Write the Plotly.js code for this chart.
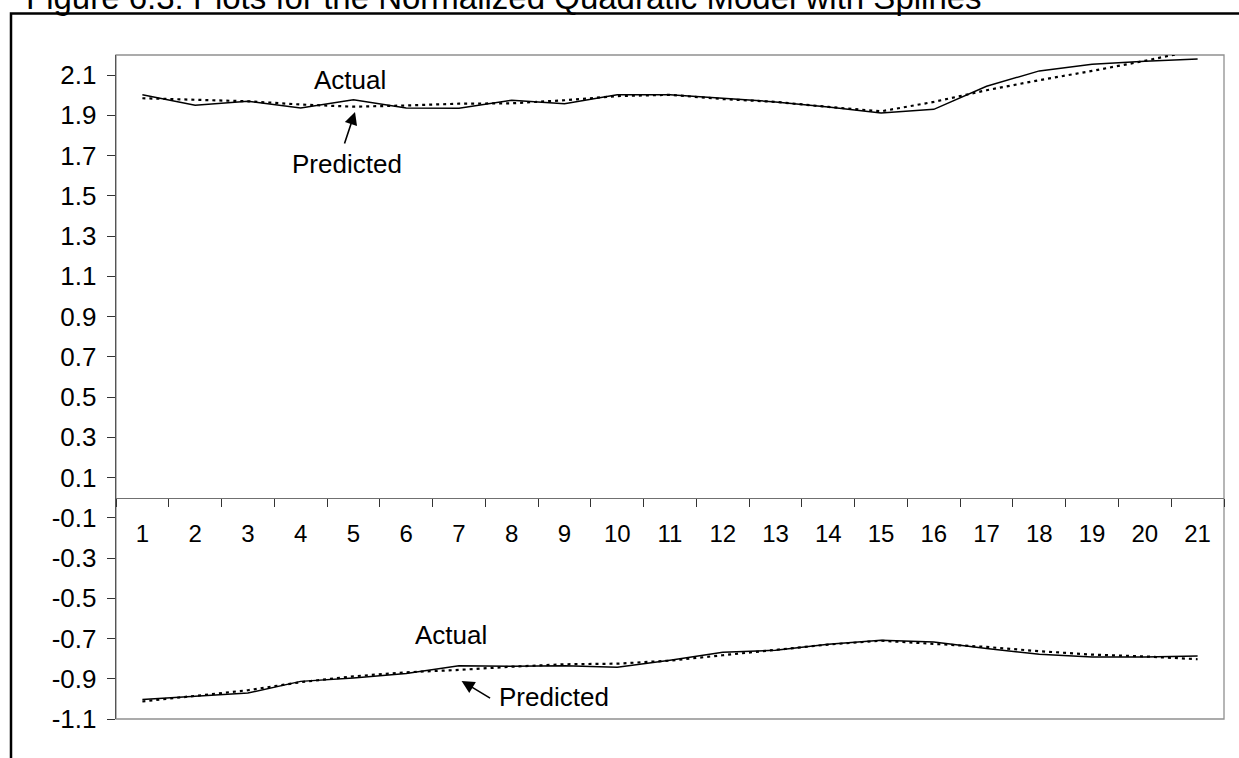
<!DOCTYPE html>
<html>
<head>
<meta charset="utf-8">
<script src="https://cdn.plot.ly/plotly-3.0.1.min.js"></script>
<style>
  html, body { margin: 0; padding: 0; background: #ffffff; }
  #chart { width: 1239px; height: 758px; }
</style>
</head>
<body>
<div id="chart"></div>
<script>
// ---- data ----
const categories = ['1','2','3','4','5','6','7','8','9','10','11','12','13','14','15','16','17','18','19','20','21'];

const upperActual    = [2.003, 1.950, 1.970, 1.937, 1.978, 1.937, 1.935, 1.975, 1.958, 2.003, 2.003, 1.986, 1.967, 1.942, 1.912, 1.930, 2.045, 2.121, 2.154, 2.169, 2.180];
const upperPredicted = [1.985, 1.976, 1.970, 1.954, 1.943, 1.949, 1.958, 1.960, 1.975, 1.996, 2.002, 1.981, 1.967, 1.942, 1.920, 1.967, 2.025, 2.075, 2.121, 2.171, 2.226];

const lowerActual    = [-1.003, -0.987, -0.971, -0.913, -0.896, -0.874, -0.835, -0.838, -0.835, -0.843, -0.808, -0.768, -0.758, -0.729, -0.709, -0.717, -0.750, -0.778, -0.792, -0.792, -0.787];
const lowerPredicted = [-1.013, -0.985, -0.957, -0.917, -0.888, -0.868, -0.856, -0.840, -0.828, -0.825, -0.810, -0.783, -0.758, -0.730, -0.711, -0.725, -0.742, -0.763, -0.780, -0.789, -0.803];

const yTickVals  = [-1.1, -0.9, -0.7, -0.5, -0.3, -0.1, 0.1, 0.3, 0.5, 0.7, 0.9, 1.1, 1.3, 1.5, 1.7, 1.9, 2.1];
const yTickText  = ['-1.1','-0.9','-0.7','-0.5','-0.3','-0.1','0.1','0.3','0.5','0.7','0.9','1.1','1.3','1.5','1.7','1.9','2.1'];
const yRange     = [-1.1, 2.2];

const titleText = 'Figure 6.3: Plots for the Normalized Quadratic Model with Splines';
const labelActual = 'Actual';
const labelPredicted = 'Predicted';

// ---- figure ----
const FONT = 'Liberation Sans, Arial, sans-serif';
const W = 1239, H = 758;
const M = {l: 116, r: 15, t: 55, b: 39};
const pw = W - M.l - M.r, ph = H - M.t - M.b;
const px = v => (v - M.l) / pw;          // pixel -> paper x
const py = v => (H - M.b - v) / ph;      // pixel -> paper y

const solid = {color: '#000000', width: 1.5};
const dotted = {color: '#000000', width: 2.2, dash: '3px,4px'};

const traces = [
  {x: categories, y: upperActual, type: 'scatter', mode: 'lines', line: solid, name: 'Actual'},
  {x: categories, y: upperPredicted, type: 'scatter', mode: 'lines', line: dotted, name: 'Predicted'},
  {x: categories, y: lowerActual, type: 'scatter', mode: 'lines', line: solid, name: 'Actual'},
  {x: categories, y: lowerPredicted, type: 'scatter', mode: 'lines', line: dotted, name: 'Predicted'}
];

const zeroPos = (0 - yRange[0]) / (yRange[1] - yRange[0]);

const layout = {
  width: W, height: H,
  margin: M,
  paper_bgcolor: '#ffffff',
  plot_bgcolor: '#ffffff',
  showlegend: false,
  font: {family: FONT, size: 24, color: '#000000'},
  xaxis: {
    type: 'category',
    range: [-0.5, categories.length - 0.5],
    anchor: 'free',
    position: zeroPos,
    showline: true, linecolor: '#707070', linewidth: 1.3,
    ticks: 'outside', tickson: 'boundaries', ticklen: 8, tickcolor: '#333333', tickwidth: 1,
    ticklabelstandoff: 14,
    showgrid: false, zeroline: false,
    tickfont: {family: FONT, size: 24, color: '#000000'},
    fixedrange: true
  },
  yaxis: {
    range: yRange,
    tickmode: 'array', tickvals: yTickVals, ticktext: yTickText,
    showline: true, linecolor: '#555555', linewidth: 1.3,
    ticks: 'outside', ticklen: 8, tickcolor: '#333333', tickwidth: 1,
    ticklabelstandoff: 5,
    showgrid: false, zeroline: false,
    tickfont: {family: FONT, size: 26, color: '#000000'},
    fixedrange: true
  },
  shapes: [
    // plot area border
    {type: 'rect', xref: 'paper', yref: 'paper', x0: 0, x1: 1, y0: 0, y1: 1,
     line: {color: '#909090', width: 1.3}, layer: 'below'},
    // outer chart frame
    {type: 'rect', xref: 'paper', yref: 'paper', x0: px(11), x1: px(W + 20), y0: py(H + 20), y1: py(13.5),
     line: {color: '#000000', width: 2.5}}
  ],
  annotations: [
    {xref: 'paper', yref: 'paper', x: px(24), y: py(-3), xanchor: 'left', yanchor: 'middle',
     text: titleText, showarrow: false, font: {family: FONT, size: 33, color: '#000000'}},
    // upper panel labels
    {xref: 'x', yref: 'y', x: 3.93, y: 2.075, text: labelActual, showarrow: false,
     font: {family: FONT, size: 26}},
    {xref: 'x', yref: 'y', x: 3.88, y: 1.66, text: labelPredicted, showarrow: false,
     font: {family: FONT, size: 26}},
    {xref: 'x', yref: 'y', x: 4.03, y: 1.917, text: '', showarrow: true, arrowhead: 2, arrowsize: 1.6,
     arrowwidth: 1.6, arrowcolor: '#000000', axref: 'pixel', ayref: 'pixel', ax: -11, ay: 33, standoff: 0},
    // lower panel labels
    {xref: 'x', yref: 'y', x: 5.85, y: -0.684, text: labelActual, showarrow: false,
     font: {family: FONT, size: 26}},
    {xref: 'x', yref: 'y', x: 7.80, y: -0.992, text: labelPredicted, showarrow: false,
     font: {family: FONT, size: 26}},
    {xref: 'x', yref: 'y', x: 6.05, y: -0.911, text: '', showarrow: true, arrowhead: 2, arrowsize: 1.6,
     arrowwidth: 1.6, arrowcolor: '#000000', axref: 'pixel', ayref: 'pixel', ax: 30, ay: 18, standoff: 0}
  ]
};

Plotly.newPlot('chart', traces, layout, {staticPlot: true, displayModeBar: false});
</script>
</body>
</html>
